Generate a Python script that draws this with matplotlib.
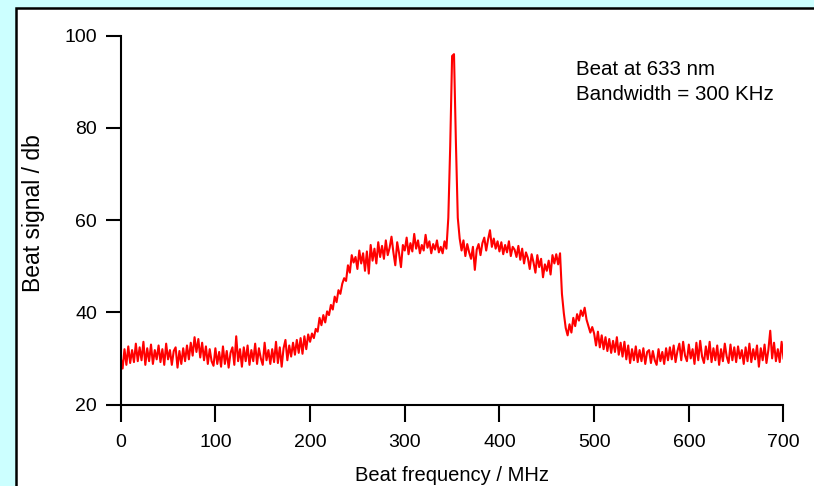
import numpy as np
import matplotlib
matplotlib.use("Agg")
import matplotlib.pyplot as plt
from matplotlib.patches import Rectangle

plt.rcParams['font.family'] = ['Liberation Sans', 'DejaVu Sans']

# beat spectrum, sampled every 2 MHz from 0 to 700 MHz
freq_step = 2
signal = [
    30.2, 27.8, 32.0, 28.6, 32.6, 29.0, 31.8, 29.2, 33.2, 29.4,   # 0
    32.4, 29.6, 33.6, 28.6, 32.2, 29.4, 33.0, 28.8, 31.8, 29.8,   # 20
    32.8, 29.2, 32.0, 28.6, 33.2, 29.8, 31.8, 28.6, 31.6, 32.4,   # 40
    28.0, 31.6, 28.8, 32.2, 29.4, 32.8, 29.8, 33.4, 30.6, 34.6,   # 60
    31.4, 34.2, 30.2, 33.4, 29.6, 32.6, 28.8, 32.0, 29.4, 28.4,   # 80
    32.2, 28.8, 31.4, 28.2, 32.6, 28.8, 31.6, 28.0, 31.2, 32.4,   # 100
    28.6, 34.8, 29.4, 32.0, 28.2, 32.4, 29.4, 32.8, 28.6, 31.8,   # 120
    29.4, 33.2, 28.8, 32.2, 30.0, 28.6, 33.4, 29.6, 31.8, 28.8,   # 140
    32.0, 29.2, 33.6, 29.0, 32.4, 28.2, 32.2, 34.0, 29.6, 32.8,   # 160
    30.4, 33.4, 30.8, 34.0, 31.2, 34.4, 31.0, 34.8, 32.0, 35.2,   # 180
    33.6, 35.4, 34.4, 36.4, 35.8, 38.8, 37.2, 39.4, 37.8, 40.2,   # 200
    39.4, 41.6, 40.6, 43.4, 42.2, 44.8, 44.0, 46.2, 47.4, 46.8,   # 220
    50.2, 48.6, 52.4, 50.8, 52.0, 49.4, 53.4, 50.6, 52.8, 49.0,   # 240
    53.2, 48.4, 54.6, 51.2, 53.8, 50.6, 55.2, 52.0, 54.4, 51.6,   # 260
    55.6, 52.4, 54.0, 56.4, 53.0, 50.2, 55.2, 52.8, 49.8, 54.6,   # 280
    53.4, 56.2, 52.6, 55.0, 53.2, 57.0, 53.8, 55.6, 52.8, 54.6,   # 300
    53.4, 56.8, 54.0, 55.4, 52.8, 54.8, 53.6, 55.6, 53.0, 54.2,   # 320
    52.8, 55.4, 53.8, 60.5, 76.0, 95.6, 96.0, 77.0, 60.5, 56.0,   # 340
    53.4, 55.6, 52.2, 54.8, 53.0, 51.6, 54.2, 49.2, 53.6, 54.8,   # 360
    52.4, 55.0, 56.2, 53.4, 55.8, 57.8, 54.2, 56.0, 53.8, 55.4,   # 380
    53.2, 55.2, 52.6, 54.6, 53.0, 55.4, 52.2, 54.2, 53.6, 52.0,   # 400
    54.4, 51.4, 53.8, 50.6, 53.0, 51.8, 49.4, 52.6, 50.8, 48.6,   # 420
    52.4, 49.8, 51.6, 47.6, 50.4, 49.0, 51.2, 48.2, 52.4, 50.6,   # 440
    52.6, 50.4, 52.8, 44.0, 39.8, 36.6, 35.0, 37.4, 35.6, 38.8,   # 460
    37.0, 39.6, 38.2, 40.4, 39.2, 41.0, 38.4, 37.0, 35.6, 36.8,   # 480
    35.4, 32.8, 35.8, 32.4, 35.0, 32.0, 34.6, 31.6, 34.2, 31.2,   # 500
    33.8, 31.4, 34.6, 30.8, 33.4, 30.4, 33.6, 29.8, 32.8, 29.0,   # 520
    32.0, 29.6, 32.6, 29.2, 31.8, 29.4, 32.2, 28.8, 31.4, 31.8,   # 540
    29.0, 31.6, 29.6, 28.6, 32.0, 29.4, 31.4, 28.8, 32.2, 29.6,   # 560
    32.4, 29.8, 32.8, 29.2, 31.6, 33.2, 29.6, 33.6, 30.6, 29.4,   # 580
    33.0, 30.0, 32.0, 28.8, 33.4, 29.6, 33.8, 30.4, 29.0, 32.6,   # 600
    29.8, 33.6, 29.2, 32.2, 29.6, 32.8, 28.6, 32.0, 29.4, 33.2,   # 620
    30.4, 29.0, 33.0, 29.6, 32.4, 29.2, 32.6, 30.0, 31.8, 28.8,   # 640
    32.4, 29.4, 33.2, 29.2, 32.0, 29.8, 32.8, 28.2, 32.2, 29.6,   # 660
    33.0, 29.0, 31.8, 36.0, 30.0, 33.4, 29.4, 32.0, 29.2, 33.6,   # 680
    30.0,                                                         # 700
]
freq = np.arange(len(signal)) * freq_step

x_ticks = [0, 100, 200, 300, 400, 500, 600, 700]
y_ticks = [20, 40, 60, 80, 100]
note_lines = ["Beat at 633 nm", "Bandwidth = 300 KHz"]

fig = plt.figure(figsize=(8.14, 4.86), dpi=100, facecolor='#ccffff')
panel = Rectangle((16/814, -0.1), 1.2, 1.1 - 8/486, transform=fig.transFigure,
                  facecolor='white', edgecolor='black', linewidth=1.8, zorder=-10)
fig.patches.append(panel)

ax = fig.add_axes([120.7/814, 1 - 404.5/486, (783.5 - 120.7)/814, (404.5 - 35.7)/486])
ax.set_zorder(5)
ax.patch.set_alpha(0)
ax.plot(freq, signal, color='#ff0000', linewidth=1.5)

ax.set_xlim(0, 700)
ax.set_ylim(20, 100)
ax.set_xticks(x_ticks)
ax.set_yticks(y_ticks)
for s in ['top', 'right']:
    ax.spines[s].set_visible(False)
for s in ['left', 'bottom']:
    ax.spines[s].set_linewidth(1.5)
ax.tick_params(axis='both', direction='out', width=1.5, labelsize=14)
ax.tick_params(axis='y', length=11, pad=6)
ax.tick_params(axis='x', length=12.5, pad=9)

ax.set_xlabel("Beat frequency / MHz", fontsize=14.5, va='baseline')
ax.xaxis.set_label_coords(0.5, -0.208)
ax.set_ylabel("Beat signal / db", fontsize=16.5, va='center')
ax.yaxis.set_label_coords(-0.132, 0.519)

ax.text(0.6867, 0.8946, note_lines[0], transform=ax.transAxes, fontsize=14.8, va='baseline')
ax.text(0.6867, 0.827, note_lines[1], transform=ax.transAxes, fontsize=14.8, va='baseline')

fig.savefig("out.png", dpi=100, facecolor=fig.get_facecolor())
